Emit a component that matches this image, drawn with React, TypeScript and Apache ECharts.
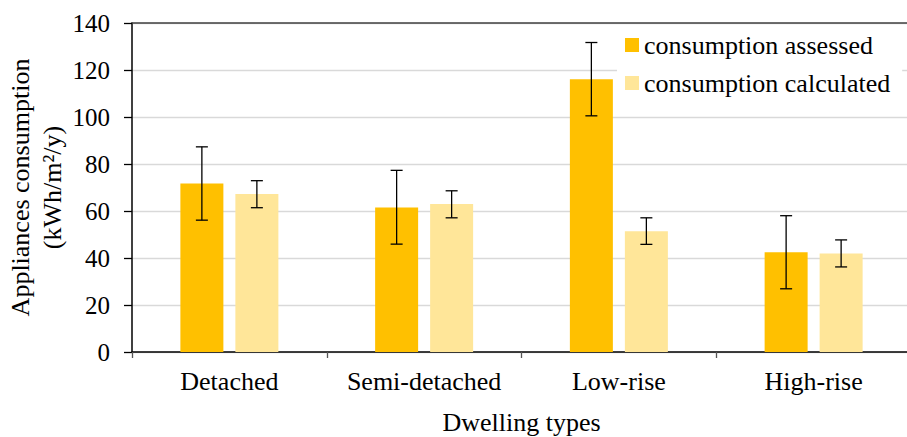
import React, { useEffect, useRef } from "react";
import * as echarts from "echarts";

const categories = ["Detached", "Semi-detached", "Low-rise", "High-rise"];
const assessed = [71.7, 61.5, 116.1, 42.4];
const assessedLow = [56.1, 45.9, 100.5, 26.9];
const assessedHigh = [87.3, 77.3, 131.7, 58.0];
const calculated = [67.2, 63.0, 51.4, 41.9];
const calculatedLow = [61.4, 57.1, 45.8, 36.2];
const calculatedHigh = [72.9, 68.6, 57.1, 47.7];
const yTicks = { min: 0, max: 140, interval: 20 };

const FONT = '"Liberation Serif", "Times New Roman", serif';
const BAR_W = 43;
const BAR_GAP = 12;
const C1 = "#FFC000";
const C2 = "#FFE699";

function errorSeries(name: string, low: number[], high: number[], offset: number) {
  return {
    type: "custom",
    name,
    xAxisIndex: 0,
    yAxisIndex: 0,
    z: 5,
    silent: true,
    encode: { x: 0, y: [1, 2] },
    data: categories.map((_, i) => [i, low[i], high[i]]),
    renderItem: (params: any, api: any) => {
      const idx = api.value(0);
      const pLo = api.coord([idx, api.value(1)]);
      const pHi = api.coord([idx, api.value(2)]);
      const cx = pLo[0] + offset;
      const half = 6;
      const style = { stroke: "#000", lineWidth: 1.3 };
      return {
        type: "group",
        children: [
          { type: "line", shape: { x1: cx, y1: pHi[1], x2: cx, y2: pLo[1] }, style },
          { type: "line", shape: { x1: cx - half, y1: pHi[1], x2: cx + half, y2: pHi[1] }, style },
          { type: "line", shape: { x1: cx - half, y1: pLo[1], x2: cx + half, y2: pLo[1] }, style },
        ],
      };
    },
  };
}

export default function App() {
  const ref = useRef<HTMLDivElement>(null);
  useEffect(() => {
    if (!ref.current) return;
    const chart = echarts.init(ref.current, null, { renderer: "svg" });
    const off = (BAR_W + BAR_GAP) / 2;
    chart.setOption({
      animation: false,
      backgroundColor: "#fff",
      textStyle: { fontFamily: FONT, color: "#000" },
      grid: { left: 132, top: 23, right: -4, bottom: 85, containLabel: false, outerBoundsMode: "none" },
      legend: {
        data: ["consumption assessed", "consumption calculated"],
        orient: "vertical",
        left: 617,
        top: 28,
        padding: [4, 12, 4, 8],
        itemGap: 12,
        itemWidth: 14,
        itemHeight: 14,
        backgroundColor: "#fff",
        icon: "rect",
        textStyle: { fontFamily: FONT, fontSize: 26, color: "#000" },
        selectedMode: false,
      },
      xAxis: [
        {
          type: "category",
          data: categories,
          position: "bottom",
          name: "Dwelling types",
          nameLocation: "middle",
          nameGap: 57,
          nameMoveOverlap: false,
          nameTextStyle: { fontFamily: FONT, fontSize: 26, color: "#000" },
          axisLine: { show: true, lineStyle: { color: "#000", width: 1.5 } },
          axisTick: { show: true, length: 6, lineStyle: { color: "#555", width: 1.3 } },
          axisLabel: { fontFamily: FONT, fontSize: 26, color: "#000", margin: 16, interval: 0 },
          splitLine: { show: false },
        },
        {
          type: "category",
          data: categories,
          position: "top",
          axisLine: { show: true, lineStyle: { color: "#404040", width: 1.5 } },
          axisTick: { show: false },
          axisLabel: { show: false },
          splitLine: { show: false },
        },
      ],
      yAxis: {
        type: "value",
        min: yTicks.min,
        max: yTicks.max,
        interval: yTicks.interval,
        name: "Appliances consumption\n(kWh/m²/y)",
        nameLocation: "middle",
        nameGap: 64,
        nameMoveOverlap: false,
        nameRotate: 90,
        nameTextStyle: { fontFamily: FONT, fontSize: 26, color: "#000", lineHeight: 32, align: "center" },
        axisLine: { show: true, lineStyle: { color: "#000", width: 1.5 } },
        axisTick: { show: true, length: 8, lineStyle: { color: "#000", width: 1.3 } },
        axisLabel: { fontFamily: FONT, fontSize: 25, color: "#000", margin: 22 },
        splitLine: { show: true, lineStyle: { color: "#d9d9d9", width: 1.3 } },
      },
      series: [
        {
          type: "bar",
          name: "consumption assessed",
          data: assessed,
          barWidth: BAR_W,
          barGap: `${(BAR_GAP / BAR_W) * 100}%`,
          itemStyle: { color: C1 },
          xAxisIndex: 0,
        },
        {
          type: "bar",
          name: "consumption calculated",
          data: calculated,
          barWidth: BAR_W,
          itemStyle: { color: C2 },
          xAxisIndex: 0,
        },
        errorSeries("errA", assessedLow, assessedHigh, -off),
        errorSeries("errC", calculatedLow, calculatedHigh, off),
      ],
    });
    return () => chart.dispose();
  }, []);
  return (
    <div
      ref={ref}
      style={{ position: "fixed", left: 0, top: 0, width: 907, height: 437 }}
    />
  );
}
